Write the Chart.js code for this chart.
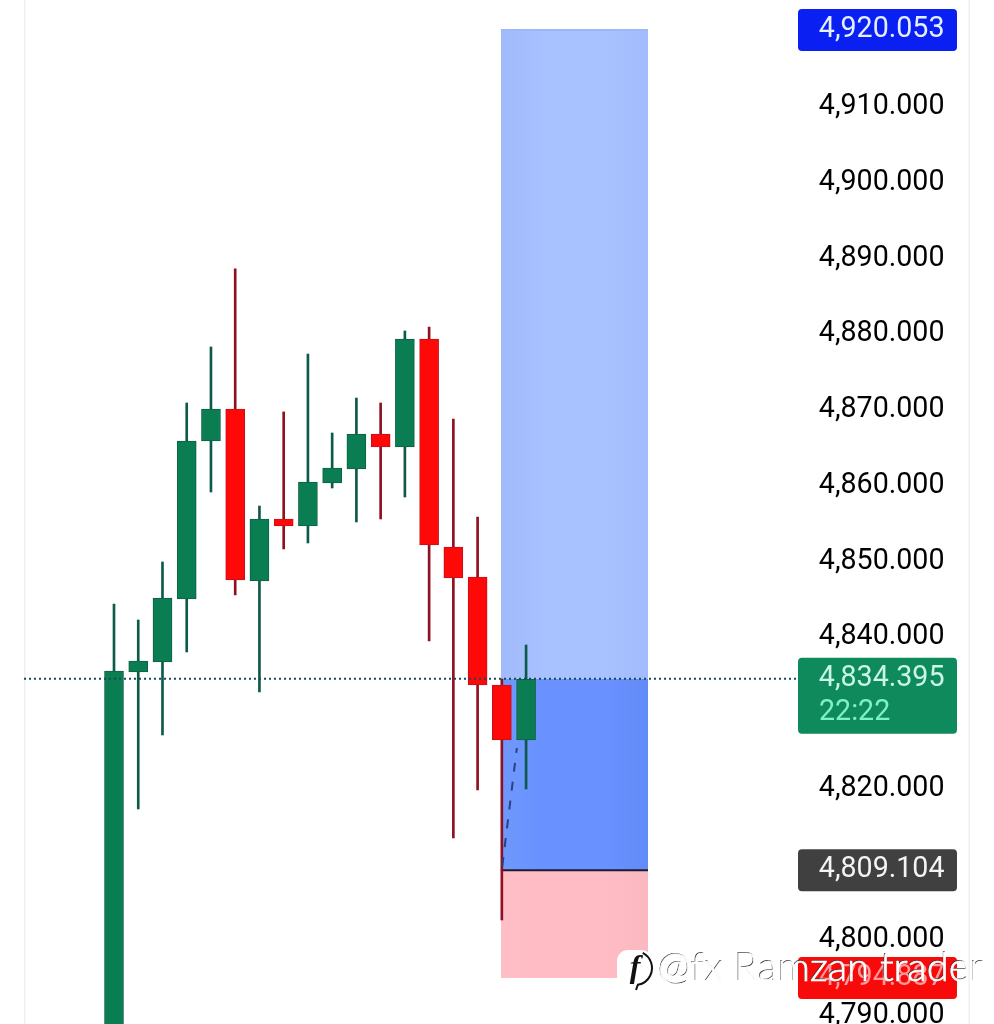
<!DOCTYPE html>
<html>
<head>
<meta charset="utf-8">
<title>4H chart</title>
<script src="https://cdn.jsdelivr.net/npm/chart.js@4"></script>
<style>
  html, body { margin: 0; padding: 0; background: #fff; }
  #wrap { width: 994px; height: 1024px; }
</style>
</head>
<body>
<div id="wrap"><canvas id="myChart"></canvas></div>
<script>
// candle values
var opens  = [4770.00, 4835.29, 4836.61, 4844.93, 4865.79, 4870.01, 4847.30, 4855.49, 4854.57, 4860.24, 4862.09, 4866.71, 4864.99, 4879.25, 4851.79, 4847.83, 4833.57, 4826.31];
var closes = [4835.42, 4836.74, 4845.06, 4865.79, 4870.01, 4847.44, 4855.49, 4854.57, 4860.37, 4862.22, 4866.71, 4864.99, 4879.25, 4852.05, 4847.70, 4833.57, 4826.31, 4834.36];
var highs  = [4844.26, 4842.15, 4849.81, 4870.80, 4878.20, 4888.50, 4857.20, 4869.62, 4877.27, 4866.84, 4871.46, 4870.80, 4880.31, 4880.84, 4868.69, 4855.75, 4834.36, 4838.85];
var lows   = [4760.00, 4817.20, 4826.97, 4837.93, 4859.05, 4845.46, 4832.65, 4851.53, 4852.32, 4859.58, 4855.09, 4855.49, 4858.39, 4839.38, 4813.37, 4819.71, 4802.54, 4819.84];

// axis ticks (the ones hidden behind the price tags are left out)
var tickValues = [4910, 4900, 4890, 4880, 4870, 4860, 4850, 4840, 4820, 4800, 4790];
var tickLabels = ['4,910.000', '4,900.000', '4,890.000', '4,880.000', '4,870.000', '4,860.000', '4,850.000', '4,840.000', '4,820.000', '4,800.000', '4,790.000'];

// position tool levels and price tags
var targetPrice = 4920.053;
var lastPrice = 4834.395;
var entryPrice = 4809.104;
var stopPrice = 4794.887;
var countdown = '22:22';
var toolStart = 15.96;
var toolEnd = 22.03;
var entryLine = [{ x: 16.02, y: 4809.67 }, { x: 16.62, y: 4825.25 }];

var green = '#0b7d52', greenEdge = '#0c6146', greenWick = '#0d5a4a';
var red = '#fe0808', redEdge = '#c5101c', redWick = '#8f1020';

var axisMin = 4788.81, axisMax = 4924.01;
var xMin = -3.713, xMax = 28.218;

function isUp(i) { return closes[i] >= opens[i]; }

function toolRect(top, bottom, colors, order, border) {
  return {
    type: 'line',
    data: [{ x: toolStart, y: top }, { x: toolEnd, y: top }],
    borderColor: border,
    borderWidth: 2,
    pointRadius: 0,
    fill: { value: bottom },
    order: order,
    backgroundColor: function (c) {
      var area = c.chart.chartArea;
      if (!area) return colors[1];
      var sx = c.chart.scales.x;
      var g = c.chart.ctx.createLinearGradient(sx.getPixelForValue(toolStart), 0, sx.getPixelForValue(toolEnd), 0);
      g.addColorStop(0, colors[0]);
      g.addColorStop(0.3, colors[1]);
      g.addColorStop(0.7, colors[1]);
      g.addColorStop(1, colors[2]);
      return g;
    }
  };
}

function roundRect(ctx, x, y, w, h, r) {
  ctx.beginPath();
  ctx.roundRect(x, y, w, h, r);
  ctx.fill();
}

// frame lines left and right of the chart
var framePlugin = {
  id: 'frame',
  beforeDraw: function (chart) {
    var ctx = chart.ctx;
    ctx.save();
    ctx.fillStyle = '#f0f0f0';
    ctx.fillRect(24, 0, 1.5, 1024);
    ctx.fillRect(968.5, 0, 1.5, 1024);
    ctx.restore();
  }
};

// price tags on the axis and the watermark
var tagPlugin = {
  id: 'tags',
  afterDraw: function (chart) {
    var ctx = chart.ctx;
    var sy = chart.scales.y;
    ctx.save();
    ctx.font = '28.6px Roboto';
    ctx.textBaseline = 'middle';

    function tag(value, fillColor, textColor) {
      var py = sy.getPixelForValue(value);
      ctx.fillStyle = fillColor;
      roundRect(ctx, 798, py - 21, 159, 42, 4);
      ctx.fillStyle = textColor;
      ctx.textAlign = 'right';
      ctx.fillText(value.toLocaleString('en-US', { minimumFractionDigits: 3 }), 944.5, py);
    }

    tag(targetPrice, '#0a20f2', '#e4f0ff');
    tag(entryPrice, '#404040', '#f4f4f4');
    tag(stopPrice, '#f80a0a', '#ff9a9a');

    var py = sy.getPixelForValue(lastPrice);
    ctx.fillStyle = '#0f8a5c';
    roundRect(ctx, 798, py - 21, 159, 76, 4);
    ctx.textAlign = 'right';
    ctx.fillStyle = '#c9f6e6';
    ctx.fillText(lastPrice.toLocaleString('en-US', { minimumFractionDigits: 3 }), 944.5, py);
    ctx.textAlign = 'left';
    ctx.fillStyle = '#80f0c6';
    ctx.fillText(countdown, 819, py + 34);

    // watermark
    ctx.fillStyle = '#ffffff';
    roundRect(ctx, 617, 950, 35, 38, 11);
    ctx.strokeStyle = '#111111';
    ctx.lineWidth = 2;
    ctx.beginPath();
    ctx.arc(635, 968, 17, -1.1, 1.4);
    ctx.lineTo(636, 990);
    ctx.stroke();
    ctx.font = 'italic 700 32px "Liberation Serif"';
    ctx.textAlign = 'center';
    ctx.fillStyle = '#111111';
    ctx.fillText('f', 635, 969);
    ctx.font = '300 40px Lato';
    ctx.textAlign = 'left';
    ctx.fillStyle = '#3a3a3a';
    ctx.fillText('@fx Ramzan trader', 657.2, 967.4);
    ctx.fillStyle = '#ffffff';
    ctx.strokeStyle = '#ffffff';
    ctx.lineWidth = 0.7;
    ctx.fillText('@fx Ramzan trader', 658, 968);
    ctx.strokeText('@fx Ramzan trader', 658, 968);
    ctx.restore();
  }
};

var wickData = highs.map(function (h, i) { return { x: i, y: [lows[i], h] }; });
var bodyData = opens.map(function (o, i) { return { x: i, y: [o, closes[i]] }; });

var ctx = document.getElementById('myChart').getContext('2d');

var myChart = new Chart(ctx, {
  type: 'bar',
  data: {
    datasets: [
      // candles
      {
        data: bodyData,
        grouped: false,
        barThickness: 19,
        order: 2,
        borderWidth: 1,
        borderSkipped: false,
        backgroundColor: opens.map(function (o, i) { return isUp(i) ? green : red; }),
        borderColor: opens.map(function (o, i) { return isUp(i) ? greenEdge : redEdge; })
      },
      {
        data: wickData,
        grouped: false,
        barThickness: 2,
        order: 3,
        backgroundColor: opens.map(function (o, i) { return isUp(i) ? greenWick : redWick; })
      },
      // last price line
      {
        type: 'line',
        data: [{ x: xMin, y: lastPrice }, { x: xMax, y: lastPrice }],
        borderColor: '#164a58',
        borderWidth: 2,
        borderDash: [2, 3],
        pointRadius: 0,
        order: 1
      },
      // dashed line inside the position tool
      {
        type: 'line',
        data: entryLine,
        borderColor: '#2c3f80',
        borderWidth: 2,
        borderDash: [9, 10],
        pointRadius: 0,
        order: 1
      },
      toolRect(targetPrice, lastPrice, ['#a0bafb', '#a8c1ff', '#a2bcfb'], 5, '#9db8f8'),
      toolRect(lastPrice, entryPrice, ['#6f98fd', '#6991ff', '#628bf8'], 5, 'rgba(0,0,0,0)'),
      toolRect(entryPrice, stopPrice, ['#ffbdc5', '#ffbcc4', '#fcb8c0'], 4, '#1d1d2e')
    ]
  },
  options: {
    responsive: true,
    maintainAspectRatio: false,
    animation: false,
    layout: { padding: { left: 24, right: 49.5, top: 0, bottom: 0 } },
    plugins: {
      legend: { display: false },
      tooltip: { enabled: false }
    },
    scales: {
      x: {
        type: 'linear',
        display: false,
        offset: false,
        min: xMin,
        max: xMax
      },
      y: {
        position: 'right',
        min: axisMin,
        max: axisMax,
        grid: { display: false, drawTicks: false },
        border: { display: false },
        afterBuildTicks: function (axis) {
          axis.ticks = tickValues.map(function (v) { return { value: v }; });
        },
        afterFit: function (axis) {
          axis.width = 146.5;
          axis.paddingTop = 0;
          axis.paddingBottom = 0;
        },
        ticks: {
          autoSkip: false,
          crossAlign: 'far',
          labelOffset: 1,
          color: '#000000',
          font: { family: 'Roboto', size: 28.6 },
          callback: function (value) { return tickLabels[tickValues.indexOf(value)]; }
        }
      }
    }
  },
  plugins: [framePlugin, tagPlugin]
});
</script>
</body>
</html>
